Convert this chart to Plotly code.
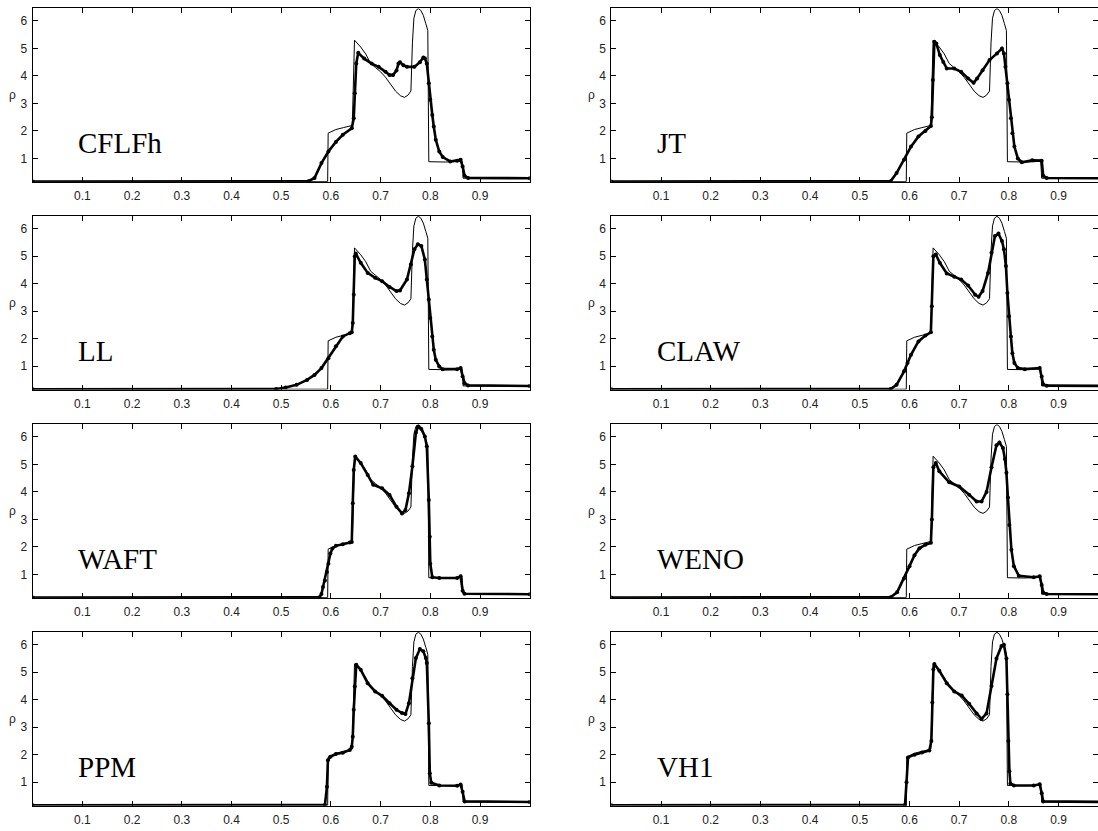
import plotly.graph_objects as go

# ---------------- data ----------------
x_exact = [0.0, 0.5935, 0.5945, 0.61, 0.625, 0.643, 0.6475, 0.652, 0.66, 0.67, 0.68, 0.69, 0.70,
           0.71, 0.72, 0.73, 0.74, 0.748, 0.755, 0.761, 0.764, 0.767, 0.771, 0.776, 0.781, 0.786,
           0.791, 0.795, 0.797, 0.81, 0.83, 0.85, 0.864, 0.866, 0.88, 1.0]
rho_exact = [0.16, 0.16, 1.92, 2.05, 2.12, 2.2, 5.3, 5.22, 5.05, 4.8, 4.45, 4.3, 4.15,
             3.95, 3.7, 3.45, 3.28, 3.22, 3.3, 3.45, 5.2, 6.1, 6.38, 6.45, 6.38, 6.2,
             5.9, 5.65, 0.88, 0.87, 0.87, 0.88, 0.9, 0.28, 0.28, 0.28]

x_cflfh = [0.0, 0.555, 0.567, 0.581, 0.595, 0.61, 0.624, 0.642, 0.646, 0.648, 0.651, 0.655,
           0.667, 0.682, 0.696, 0.71, 0.718, 0.725, 0.732, 0.736, 0.739, 0.746, 0.753, 0.768,
           0.779, 0.786, 0.789, 0.793, 0.797, 0.800, 0.804, 0.807, 0.811, 0.818, 0.825, 0.84,
           0.854, 0.861, 0.865, 0.869, 0.876, 1.0]
rho_cflfh = [0.16, 0.17, 0.29, 0.83, 1.25, 1.6, 1.86, 2.1, 2.46, 3.37, 4.45, 4.84,
             4.63, 4.45, 4.33, 4.15, 4.03, 4.03, 4.2, 4.45, 4.5, 4.39, 4.33, 4.33,
             4.5, 4.67, 4.64, 4.45, 3.73, 3.13, 2.58, 2.16, 1.68, 1.25, 1.05, 0.89,
             0.92, 0.95, 0.71, 0.37, 0.29, 0.28]

x_jt = [0.0, 0.562, 0.574, 0.589, 0.603, 0.618, 0.632, 0.643, 0.645, 0.647, 0.65, 0.654,
        0.661, 0.668, 0.675, 0.69, 0.704, 0.718, 0.729, 0.736, 0.747, 0.761, 0.776, 0.786,
        0.79, 0.793, 0.797, 0.8, 0.804, 0.807, 0.811, 0.818, 0.826, 0.847, 0.866, 0.869,
        0.876, 1.0]
rho_jt = [0.16, 0.17, 0.47, 0.95, 1.43, 1.8, 2.0, 2.18, 2.5, 3.85, 5.24, 5.18,
          4.76, 4.51, 4.27, 4.27, 4.15, 3.91, 3.75, 3.91, 4.21, 4.58, 4.82, 5.0,
          4.82, 4.33, 3.73, 3.13, 2.46, 1.92, 1.43, 1.0, 0.86, 0.93, 0.92, 0.37,
          0.29, 0.28]

x_ll = [0.0, 0.49, 0.509, 0.531, 0.552, 0.567, 0.581, 0.595, 0.61, 0.624, 0.638, 0.642,
        0.644, 0.646, 0.648, 0.65, 0.66, 0.674, 0.689, 0.703, 0.718, 0.732, 0.739, 0.753,
        0.761, 0.768, 0.775, 0.782, 0.789, 0.793, 0.797, 0.8, 0.804, 0.807, 0.811, 0.818,
        0.825, 0.854, 0.861, 0.865, 0.869, 0.876, 1.0]
rho_ll = [0.16, 0.17, 0.22, 0.32, 0.5, 0.68, 0.93, 1.29, 1.72, 2.08, 2.2, 2.23,
          2.57, 3.6, 5.0, 5.1, 4.76, 4.39, 4.21, 4.09, 3.88, 3.73, 3.75, 4.15,
          4.7, 5.25, 5.43, 5.37, 4.88, 4.15, 3.42, 2.75, 2.08, 1.6, 1.23, 0.99,
          0.89, 0.89, 0.93, 0.62, 0.38, 0.3, 0.28]

x_claw = [0.0, 0.562, 0.574, 0.589, 0.596, 0.603, 0.618, 0.632, 0.643, 0.645, 0.648, 0.653,
          0.661, 0.675, 0.69, 0.704, 0.718, 0.732, 0.739, 0.747, 0.758, 0.765, 0.772, 0.779,
          0.786, 0.79, 0.794, 0.797, 0.8, 0.804, 0.807, 0.811, 0.818, 0.832, 0.862, 0.866,
          0.869, 0.876, 1.0]
rho_claw = [0.16, 0.17, 0.32, 0.81, 1.11, 1.41, 1.9, 2.11, 2.23, 3.18, 5.0, 5.06,
            4.76, 4.37, 4.25, 4.15, 3.93, 3.6, 3.52, 3.73, 4.39, 5.12, 5.73, 5.82,
            5.55, 5.25, 4.64, 3.66, 2.81, 2.08, 1.47, 1.11, 0.93, 0.89, 0.93, 0.62,
            0.34, 0.29, 0.28]

x_waft = [0.0, 0.577, 0.581, 0.584, 0.588, 0.592, 0.595, 0.599, 0.603, 0.61, 0.624, 0.638,
          0.642, 0.644, 0.646, 0.649, 0.66, 0.674, 0.685, 0.703, 0.718, 0.732, 0.743, 0.75,
          0.757, 0.764, 0.771, 0.775, 0.782, 0.789, 0.793, 0.797, 0.799, 0.8, 0.804, 0.818,
          0.854, 0.861, 0.865, 0.869, 1.0]
rho_waft = [0.16, 0.17, 0.29, 0.54, 0.78, 1.09, 1.39, 1.76, 1.94, 2.04, 2.1, 2.16,
            2.18, 3.59, 4.8, 5.29, 5.05, 4.62, 4.26, 4.13, 3.89, 3.46, 3.22, 3.34,
            3.95, 4.93, 6.15, 6.37, 6.29, 6.02, 5.66, 3.71, 2.37, 1.39, 0.9, 0.87,
            0.87, 0.93, 0.41, 0.3, 0.28]

x_weno = [0.0, 0.562, 0.575, 0.589, 0.6, 0.61, 0.62, 0.632, 0.643, 0.645, 0.648, 0.653,
          0.66, 0.68, 0.70, 0.72, 0.735, 0.745, 0.755, 0.765, 0.775, 0.781, 0.788, 0.792,
          0.795, 0.798, 0.801, 0.805, 0.81, 0.82, 0.85, 0.862, 0.866, 0.869, 0.876, 1.0]
rho_weno = [0.16, 0.17, 0.35, 0.85, 1.3, 1.7, 1.95, 2.08, 2.15, 3.0, 4.9, 5.05,
            4.75, 4.35, 4.2, 3.9, 3.65, 3.65, 4.0, 4.9, 5.7, 5.8, 5.6, 5.2,
            4.7, 3.8, 2.8, 1.9, 1.3, 0.95, 0.9, 0.93, 0.62, 0.34, 0.29, 0.28]

x_ppm = [0.0, 0.588, 0.592, 0.594, 0.599, 0.61, 0.624, 0.638, 0.642, 0.644, 0.646, 0.648,
         0.651, 0.66, 0.674, 0.689, 0.703, 0.718, 0.732, 0.743, 0.75, 0.757, 0.764, 0.771,
         0.779, 0.786, 0.791, 0.793, 0.797, 0.799, 0.802, 0.818, 0.854, 0.861, 0.865, 0.869, 1.0]
rho_ppm = [0.16, 0.17, 0.83, 1.8, 1.92, 2.02, 2.07, 2.17, 2.29, 2.65, 3.63, 4.48,
           5.27, 5.09, 4.6, 4.3, 4.14, 3.87, 3.63, 3.51, 3.48, 3.87, 4.78, 5.51,
           5.84, 5.76, 5.51, 5.33, 3.14, 1.32, 0.98, 0.88, 0.87, 0.91, 0.65, 0.3, 0.28]

x_vh1 = [0.0, 0.591, 0.594, 0.597, 0.61, 0.625, 0.64, 0.644, 0.646, 0.648, 0.65, 0.66,
         0.675, 0.69, 0.705, 0.72, 0.735, 0.745, 0.755, 0.765, 0.775, 0.785, 0.79, 0.795,
         0.797, 0.799, 0.801, 0.803, 0.81, 0.85, 0.862, 0.866, 0.869, 1.0]
rho_vh1 = [0.16, 0.17, 1.0, 1.9, 2.0, 2.08, 2.15, 2.5, 3.9, 5.1, 5.3, 5.05,
           4.6, 4.3, 4.15, 3.85, 3.5, 3.3, 3.5, 4.5, 5.5, 5.95, 6.0, 5.5,
           4.2, 2.5, 1.4, 0.95, 0.88, 0.88, 0.92, 0.6, 0.3, 0.28]

scheme_names = ["CFLFh", "JT", "LL", "CLAW", "WAFT", "WENO", "PPM", "VH1"]
scheme_x = [x_cflfh, x_jt, x_ll, x_claw, x_waft, x_weno, x_ppm, x_vh1]
scheme_rho = [rho_cflfh, rho_jt, rho_ll, rho_claw, rho_waft, rho_weno, rho_ppm, rho_vh1]

x_tick_vals = [0.1, 0.2, 0.3, 0.4, 0.5, 0.6, 0.7, 0.8, 0.9]
x_tick_text = ["0.1", "0.2", "0.3", "0.4", "0.5", "0.6", "0.7", "0.8", "0.9"]
y_tick_vals = [1, 2, 3, 4, 5, 6]
y_tick_text = ["1", "2", "3", "4", "5", "6"]
y_label = "ρ"

# ---------------- layout geometry ----------------
W, H = 1098, 831
panel_tops = [8.3, 216.0, 424.3, 632.0]
panel_h = 173.5
col_left = [32.7, 611.3]
unit_px = 497.0
y_range = [0.15, 6.46]

fig = go.Figure()
layout = dict(
    width=W, height=H, margin=dict(l=0, r=0, t=0, b=0),
    paper_bgcolor="white", plot_bgcolor="white", showlegend=False,
)
annotations = []
tick_font = dict(family="Liberation Sans, Arial, sans-serif", size=12, color="#222")

for i, name in enumerate(scheme_names):
    row, col = divmod(i, 2)
    n = i + 1
    sfx = "" if n == 1 else str(n)
    x0 = col_left[col] / W
    x1 = min(1.0, (col_left[col] + unit_px) / W)
    xmax = (x1 * W - col_left[col]) / unit_px
    ytop = 1 - panel_tops[row] / H
    ybot = 1 - (panel_tops[row] + panel_h) / H

    layout["xaxis" + sfx] = dict(
        domain=[x0, x1], range=[0, xmax], anchor="y" + sfx,
        tickmode="array", tickvals=x_tick_vals, ticktext=x_tick_text,
        ticks="inside", ticklen=5, tickcolor="black", tickwidth=1,
        showline=True, linecolor="black", linewidth=1, mirror="ticks",
        showgrid=False, zeroline=False, tickfont=tick_font, ticklabelstandoff=3,
    )
    layout["yaxis" + sfx] = dict(
        domain=[ybot, ytop], range=y_range, anchor="x" + sfx,
        tickmode="array", tickvals=y_tick_vals, ticktext=y_tick_text,
        ticks="inside", ticklen=5, tickcolor="black", tickwidth=1,
        showline=True, linecolor="black", linewidth=1, mirror="ticks",
        showgrid=False, zeroline=False, tickfont=tick_font, ticklabelstandoff=2,
    )

    fig.add_trace(go.Scatter(
        x=x_exact, y=rho_exact, mode="lines", xaxis="x" + sfx, yaxis="y" + sfx,
        line=dict(color="black", width=1), hoverinfo="skip",
    ))
    fig.add_trace(go.Scatter(
        x=scheme_x[i], y=scheme_rho[i], mode="lines+markers", xaxis="x" + sfx, yaxis="y" + sfx,
        line=dict(color="black", width=2.6), marker=dict(color="black", size=4),
    ))

    annotations.append(dict(
        x=0.088, y=1.55, xref="x" + sfx, yref="y" + sfx, text=name, showarrow=False,
        xanchor="left", yanchor="middle",
        font=dict(family="Liberation Serif, Times New Roman, serif", size=29, color="black"),
    ))
    annotations.append(dict(
        x=(col_left[col] - 20) / W, y=(ytop + ybot) / 2, xref="paper", yref="paper",
        text=y_label, showarrow=False, xanchor="center", yanchor="middle",
        font=dict(family="Liberation Sans, Arial, sans-serif", size=12, color="#222"),
    ))

layout["annotations"] = annotations
fig.update_layout(**layout)
fig.write_html(
    "out.html",
    config={"displayModeBar": False},
    post_script="document.body.style.margin='0px';document.body.style.overflow='hidden';",
)
